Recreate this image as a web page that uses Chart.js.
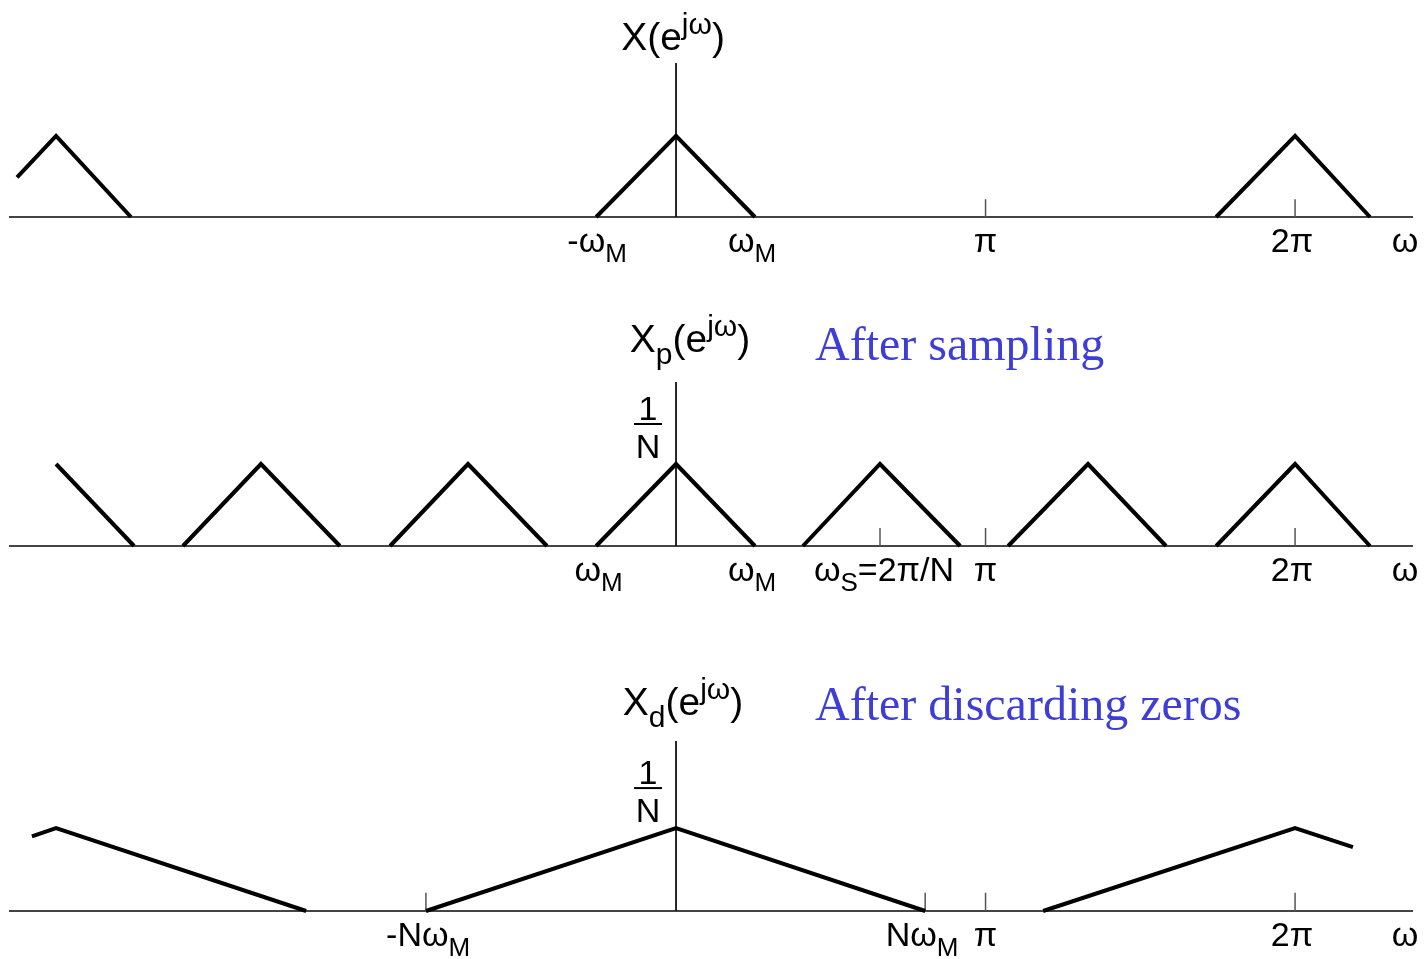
<!DOCTYPE html>
<html lang="en">
<head>
  <meta charset="UTF-8" />
  <title>Spectra before and after downsampling</title>
  <script src="https://cdn.jsdelivr.net/npm/chart.js"></script>
  <style>
    html, body { margin: 0; padding: 0; background: #fff; }
    .panel { position: absolute; left: 0; width: 1426px; }
  </style>
</head>
<body>
  <div class="panel" style="top:0;height:300px"><canvas id="orig"></canvas></div>
  <div class="panel" style="top:290px;height:330px"><canvas id="samp"></canvas></div>
  <div class="panel" style="top:620px;height:339px"><canvas id="dec"></canvas></div>

  <script>
    // frequency axis, in multiples of pi
    const axisMin = -2.155;
    const axisMax = 2.381;

    // X(e^jw): original spectrum
    const origX = [[-2.129, -2.003, -1.761], [-0.258, 0, 0.255], [1.745, 2.0, 2.242]];
    const origY = [[0.49, 1, 0], [0, 1, 0], [0, 1, 0]];
    const origTicks = [1, 2];
    const origLabelX = [-0.255, 0.246, 1, 1.99, 2.355];
    const origLabels = ['-ω_{M}', 'ω_{M}', 'π', '2π', 'ω'];

    // Xp(e^jw): after sampling
    const sampX = [[-2.003, -1.751], [-1.593, -1.341, -1.086], [-0.924, -0.672, -0.417],
                   [-0.258, 0, 0.255], [0.410, 0.659, 0.918], [1.073, 1.331, 1.583], [1.745, 2.0, 2.242]];
    const sampY = [[1, 0], [0, 1, 0], [0, 1, 0], [0, 1, 0], [0, 1, 0], [0, 1, 0], [0, 1, 0]];
    const sampTicks = [0.659, 1, 2];
    const sampLabelX = [-0.25, 0.246, 0.672, 1, 1.99, 2.355];
    const sampLabels = ['ω_{M}', 'ω_{M}', 'ω_{S}=2π/N', 'π', '2π', 'ω'];

    // Xd(e^jw): after discarding zeros
    const decX = [[-2.081, -2.003, -1.195], [-0.808, 0, 0.805], [1.186, 2.0, 2.187]];
    const decY = [[0.9, 1, 0], [0, 1, 0], [0, 1, 0.77]];
    const decTicks = [-0.808, 0.805, 1, 2];
    const decLabelX = [-0.801, 0.795, 1, 1.99, 2.355];
    const decLabels = ['-Nω_{M}', 'Nω_{M}', 'π', '2π', 'ω'];

    const tickH = 0.22;
    const SANS = '"Liberation Sans", Arial, sans-serif';
    const SERIF = '"Liberation Serif", "Times New Roman", serif';

    // text with _{sub} and ^{sup} pieces
    function parseRich(s) {
      const out = [];
      const re = /([_^])\{([^}]*)\}|([^_^]+)/g;
      let m;
      while ((m = re.exec(s))) {
        if (m[3]) out.push({ t: m[3], mode: 'n' });
        else out.push({ t: m[2], mode: m[1] === '_' ? 'sub' : 'sup' });
      }
      return out;
    }

    function drawRich(ctx, s, x, y, size, align) {
      const segs = parseRich(s);
      const small = Math.round(size * 0.76);
      let w = 0;
      segs.forEach(sg => {
        ctx.font = (sg.mode === 'n' ? size : small) + 'px ' + SANS;
        sg.w = ctx.measureText(sg.t).width;
        w += sg.w;
      });
      let cx = align === 'center' ? x - w / 2 : x;
      ctx.textAlign = 'left';
      ctx.textBaseline = 'alphabetic';
      segs.forEach(sg => {
        ctx.font = (sg.mode === 'n' ? size : small) + 'px ' + SANS;
        const dy = sg.mode === 'sub' ? size * 0.3 : sg.mode === 'sup' ? -size * 0.42 : 0;
        ctx.fillText(sg.t, cx, y + dy);
        cx += sg.w;
      });
    }

    function annotations(cfg) {
      return {
        id: 'annot',
        afterDraw(chart) {
          const { ctx } = chart;
          const x = chart.scales.x, y = chart.scales.y;
          const base = y.getPixelForValue(0);
          const x0 = x.getPixelForValue(0);
          const peak = y.getPixelForValue(1);
          ctx.save();
          ctx.fillStyle = '#000';
          cfg.labelX.forEach((v, i) => {
            drawRich(ctx, cfg.labels[i], x.getPixelForValue(v), base + 35, 34, 'center');
          });
          drawRich(ctx, cfg.title, x0 + cfg.titleDx, cfg.titleY, 39, 'center');
          if (cfg.fraction) {
            ctx.font = '34px ' + SANS;
            ctx.textAlign = 'center';
            ctx.fillText('1', x0 - 28, peak - 44);
            ctx.fillText('N', x0 - 28, peak - 6);
            ctx.fillRect(x0 - 42, peak - 41, 28, 2);
          }
          if (cfg.caption) {
            ctx.fillStyle = '#3e3ed6';
            ctx.font = '48px ' + SERIF;
            ctx.textAlign = 'left';
            ctx.fillText(cfg.caption, x0 + 139, cfg.captionY);
          }
          ctx.restore();
        }
      };
    }

    function line(points, color, width) {
      return {
        data: points, borderColor: color, borderWidth: width,
        pointRadius: 0, tension: 0, fill: false, clip: false,
        borderCapStyle: 'butt', borderJoinStyle: 'miter'
      };
    }

    function makePanel(id, cfg) {
      const datasets = [];
      cfg.xs.forEach((seg, i) => {
        datasets.push(line(seg.map((v, j) => ({ x: v, y: cfg.ys[i][j] })), '#000', 4));
      });
      datasets.push(line([{ x: 0, y: 0 }, { x: 0, y: cfg.yMax }], '#111', 1.8));
      cfg.ticks.forEach(t => {
        datasets.push(line([{ x: t, y: 0 }, { x: t, y: tickH }], '#555', 1.5));
      });
      datasets.push(line([{ x: axisMin, y: 0 }, { x: axisMax, y: 0 }], '#444', 2));

      new Chart(document.getElementById(id), {
        type: 'line',
        data: { datasets },
        options: {
          responsive: true,
          maintainAspectRatio: false,
          animation: false,
          events: [],
          layout: { padding: { left: 9, right: 13, top: cfg.padTop, bottom: cfg.padBottom } },
          plugins: { legend: { display: false }, tooltip: { enabled: false } },
          scales: {
            x: { type: 'linear', min: axisMin, max: axisMax, display: false },
            y: { type: 'linear', min: 0, max: cfg.yMax, display: false }
          }
        },
        plugins: [annotations(cfg)]
      });
    }

    makePanel('orig', {
      xs: origX, ys: origY, ticks: origTicks, labelX: origLabelX, labels: origLabels,
      yMax: 1.9, padTop: 63, padBottom: 83,
      title: 'X(e^{jω})', titleDx: -3, titleY: 50
    });

    makePanel('samp', {
      xs: sampX, ys: sampY, ticks: sampTicks, labelX: sampLabelX, labels: sampLabels,
      yMax: 2.0, padTop: 92, padBottom: 74,
      title: 'X_{p}(e^{jω})', titleDx: 14, titleY: 62,
      fraction: true, caption: 'After sampling', captionY: 70
    });

    makePanel('dec', {
      xs: decX, ys: decY, ticks: decTicks, labelX: decLabelX, labels: decLabels,
      yMax: 2.05, padTop: 121, padBottom: 48,
      title: 'X_{d}(e^{jω})', titleDx: 7, titleY: 95,
      fraction: true, caption: 'After discarding zeros', captionY: 100
    });
  </script>
</body>
</html>
